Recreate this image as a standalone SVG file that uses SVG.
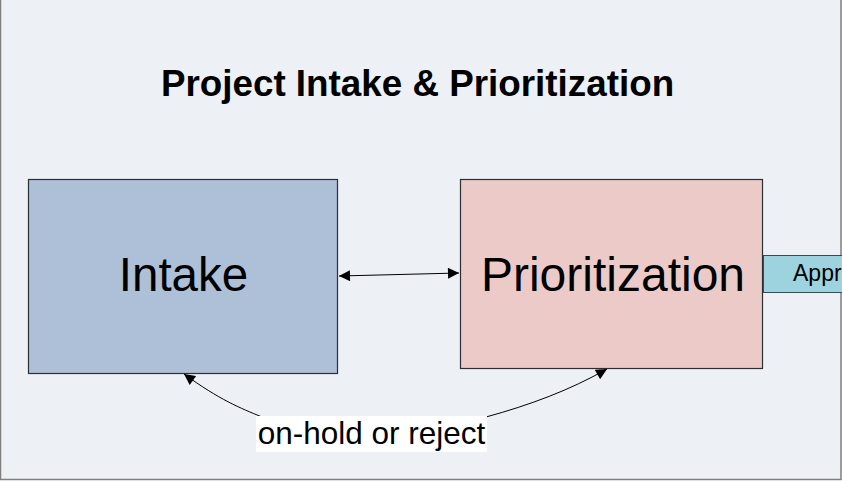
<svg xmlns="http://www.w3.org/2000/svg" width="842" height="482" viewBox="0 0 842 482">
<style>
.t{font-family:"Liberation Sans",Arial,sans-serif;fill:#000}
.box{stroke-width:1.2}
.c{fill:none;stroke:#000;stroke-width:1}
</style>
<defs>
<marker id="ah" viewBox="0 0 10 10" refX="10" refY="5" markerWidth="15" markerHeight="11" markerUnits="userSpaceOnUse" orient="auto-start-reverse">
<path d="M0,0 L10,5 L0,10 z" fill="#000"/>
</marker>
</defs>
<rect x="0.5" y="-2" width="840.5" height="481.5" fill="#edf0f5" stroke="#7f7f7f" stroke-width="1.5"/>
<text class="t" x="417.5" y="96" font-size="36.8" font-weight="bold" text-anchor="middle">Project Intake &amp; Prioritization</text>
<g id="intake">
<rect class="box" x="28.5" y="179.5" width="309" height="194" fill="#adc0d8" stroke="#2b2f36"/>
<text class="t" x="183.5" y="291" font-size="47.5" text-anchor="middle">Intake</text>
</g>
<g id="prioritization">
<rect class="box" x="460.5" y="179.5" width="302" height="189" fill="#eccac8" stroke="#2b2f36"/>
<text class="t" x="613" y="291" font-size="48" text-anchor="middle">Prioritization</text>
</g>
<g id="approved">
<rect x="763.5" y="255.5" width="90" height="37" fill="#9dd3df" stroke="#3a4a50"/>
<text class="t" x="793" y="281" font-size="23">Appr</text>
</g>
<g id="connectors">
<path class="c" d="M339,276 L459,273" marker-start="url(#ah)" marker-end="url(#ah)"/>
<path class="c" d="M262,417 C240,408 220,400 184,374" marker-end="url(#ah)"/>
<path class="c" d="M486,417 C530,405 570,390 607,369" marker-end="url(#ah)"/>
</g>
<g id="label">
<rect x="256" y="416" width="231" height="36" fill="#fff"/>
<text class="t" x="371.5" y="444" font-size="31.5" text-anchor="middle">on-hold or reject</text>
</g>
</svg>
